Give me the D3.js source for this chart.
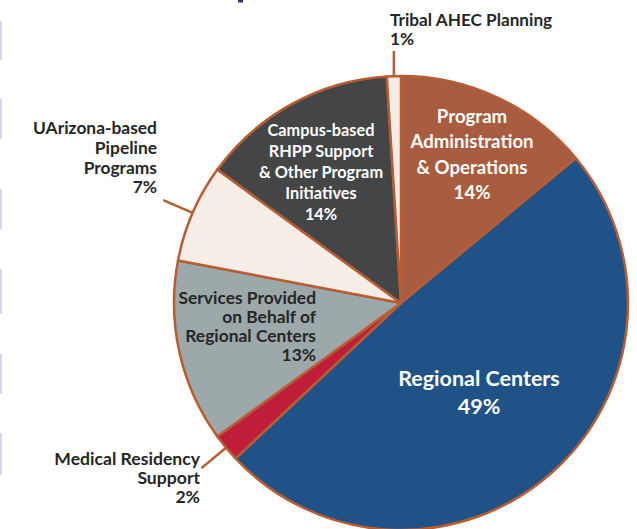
<!DOCTYPE html>
<meta charset="utf-8">
<style>
    body { margin: 0; background: #fff; }
    text { font-family: Lato, "Open Sans", sans-serif; font-weight: 700; }
</style>

<svg width="637" height="529"></svg>

<script src="https://cdn.jsdelivr.net/npm/d3@7/dist/d3.min.js"></script>
<script>

    // DATA

    var categories = [
        "Program Administration & Operations",
        "Regional Centers",
        "Medical Residency Support",
        "Services Provided on Behalf of Regional Centers",
        "UArizona-based Pipeline Programs",
        "Campus-based RHPP Support & Other Program Initiatives",
        "Tribal AHEC Planning"
    ];
    var shares = [14, 49, 2, 13, 7, 14, 1];
    var pctLabels = ["14%", "49%", "2%", "13%", "7%", "14%", "1%"];
    var labelLines = [
        ["Program", "Administration", "& Operations"],
        ["Regional Centers"],
        ["Medical Residency", "Support"],
        ["Services Provided", "on Behalf of", "Regional Centers"],
        ["UArizona-based", "Pipeline", "Programs"],
        ["Campus-based", "RHPP Support", "& Other Program", "Initiatives"],
        ["Tribal AHEC Planning"]
    ];
    var colors = ["#a85c40", "#1f5287", "#be1e38", "#9ca8a9", "#f5ede6", "#444547", "#f4ece6"];

    // LAYOUT (label placement only)

    var cx = 401, cy = 303, radius = 227;
    var labelLayout = [
        { x: 472, y: 123, anchor: "middle", size: 18.6, lh: 25.3, fill: "#fff" },
        { x: 479, y: 386, anchor: "middle", size: 21.5, lh: 28,   fill: "#fff" },
        { x: 200, y: 465, anchor: "end",    size: 17.6, lh: 19, fill: "#262626", leader: true },
        { x: 316, y: 304, anchor: "end",    size: 17.4, lh: 19, fill: "#262626" },
        { x: 157, y: 134, anchor: "end",    size: 17.4, lh: 19.8, fill: "#262626", leader: true },
        { x: 321, y: 136, anchor: "middle", size: 16.3, lh: 21, fill: "#fff" },
        { x: 390, y: 25.5, anchor: "start", size: 17.2, lh: 19.2, fill: "#262626", leader: true, vertical: true }
    ];

    var svg = d3.select("svg");

    // decorative side bars and title remnant from the source slide
    var sideBars = [[21, 60], [99, 139], [189, 229], [269, 314], [354, 394], [433, 475]];
    svg.selectAll(".sidebar")
        .data(sideBars)
        .enter().append("rect")
        .attr("class", "sidebar")
        .attr("x", 0)
        .attr("y", function (d) { return d[0]; })
        .attr("width", 2)
        .attr("height", function (d) { return d[1] - d[0]; })
        .attr("fill", "#d5d7ea");
    svg.append("rect")
        .attr("x", 238).attr("y", 0).attr("width", 5).attr("height", 2.5)
        .attr("fill", "#1f3a6b");

    var g = svg.append("g")
        .attr("transform", "translate(" + cx + "," + cy + ")");

    var pie = d3.pie().sort(null).value(function (d) { return d; });
    var arcs = pie(shares);
    var arc = d3.arc().innerRadius(0).outerRadius(radius);

    g.selectAll(".slice")
        .data(arcs)
        .enter().append("path")
        .attr("class", "slice")
        .attr("d", arc)
        .attr("fill", function (d, i) { return colors[i]; })
        .attr("stroke", "#b75d34")
        .attr("stroke-width", 2.5)
        .attr("stroke-linejoin", "round");

    // leader lines for the outside labels
    arcs.forEach(function (d, i) {
        var L = labelLayout[i];
        if (!L.leader) return;
        var a = (d.startAngle + d.endAngle) / 2;
        var r2 = radius + 32;
        var x1 = radius * Math.sin(a), y1 = -radius * Math.cos(a);
        var x2 = r2 * Math.sin(a), y2 = -r2 * Math.cos(a);
        if (L.vertical) { x2 = x1; y2 = -(radius + 25); }
        g.append("line")
            .attr("x1", x1).attr("y1", y1)
            .attr("x2", x2).attr("y2", y2)
            .attr("stroke", "#b75d34")
            .attr("stroke-width", 2.5);
    });

    // labels
    labelLines.forEach(function (lines, i) {
        var L = labelLayout[i];
        var t = svg.append("text")
            .attr("x", L.x)
            .attr("y", L.y)
            .attr("text-anchor", L.anchor)
            .attr("font-size", L.size)
            .attr("fill", L.fill);
        lines.concat([pctLabels[i]]).forEach(function (s, k) {
            t.append("tspan")
                .attr("x", L.x)
                .attr("dy", k === 0 ? 0 : L.lh)
                .text(s);
        });
    });

</script>
